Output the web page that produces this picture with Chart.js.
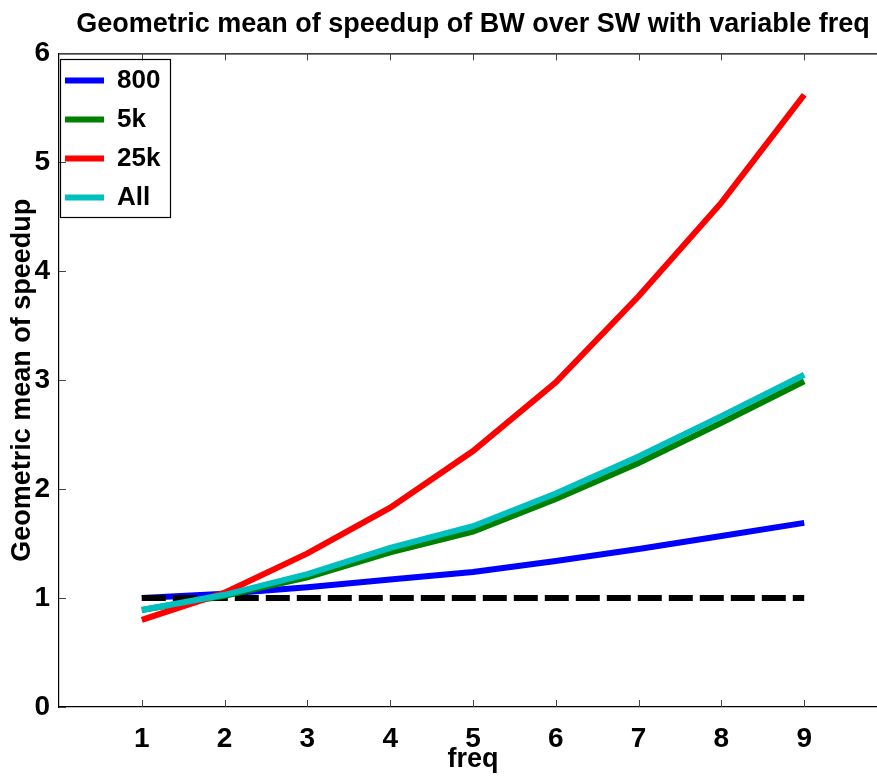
<!DOCTYPE html>
<html>
<head>
<meta charset="utf-8">
<script src="https://cdn.jsdelivr.net/npm/chart.js@4/dist/chart.umd.min.js"></script>
<style>
  html, body { margin: 0; padding: 0; background: #fff; overflow: hidden; }
  #wrap { width: 900px; height: 776px; }
</style>
</head>
<body>
<div id="wrap"><canvas id="speedup" width="900" height="776"></canvas></div>
<script>
// values
var freq = [1, 2, 3, 4, 5, 6, 7, 8, 9];
var sp800 = [1.00, 1.04, 1.10, 1.17, 1.24, 1.34, 1.45, 1.57, 1.69];
var sp5k = [0.89, 1.02, 1.19, 1.42, 1.61, 1.91, 2.24, 2.61, 2.99];
var sp25k = [0.80, 1.05, 1.41, 1.83, 2.35, 2.98, 3.77, 4.63, 5.62];
var spAll = [0.89, 1.03, 1.22, 1.46, 1.66, 1.96, 2.30, 2.67, 3.05];
var baseline = [1, 1, 1, 1, 1, 1, 1, 1, 1];
var yTicks = [0, 1, 2, 3, 4, 5, 6];

var FONT = "'Liberation Sans', Arial, Helvetica, sans-serif";

function pts(vals) {
    return freq.map(function(f, i) { return {x: f, y: vals[i]}; });
}

function series(label, vals, color, order) {
    return {
        label: label,
        data: pts(vals),
        borderColor: color,
        backgroundColor: color,
        borderWidth: 6,
        pointRadius: 0,
        tension: 0,
        order: order
    };
}

// legend in 'chartArea' gets top=0 from the layout, push it into the plot
var legendPlace = {
    id: 'legendPlace',
    afterLayout: function(chart) {
        var lg = chart.legend;
        if (!lg) {
            return;
        }
        var h = lg.height;
        var w = lg.width;
        lg.top = chart.chartArea.top + 1;
        lg.bottom = lg.top + h;
        lg.left = chart.chartArea.left - 7;
        lg.right = lg.left + w;
    }
};

// inward tick marks + top frame line, like the matlab box
var frameTicks = {
    id: 'frameTicks',
    afterDraw: function(chart) {
        var ctx = chart.ctx;
        var area = chart.chartArea;
        var xs = chart.scales.x;
        var ys = chart.scales.y;
        ctx.save();
        ctx.strokeStyle = '#000';
        ctx.lineWidth = 1.2;
        ctx.beginPath();
        ctx.moveTo(area.left, area.top + 0.5);
        ctx.lineTo(area.right, area.top + 0.5);
        ctx.stroke();
        ctx.strokeStyle = '#444';
        ctx.lineWidth = 1;
        ctx.beginPath();
        freq.forEach(function(v) {
            var px = Math.round(xs.getPixelForValue(v)) + 0.5;
            ctx.moveTo(px, area.bottom);
            ctx.lineTo(px, area.bottom - 7);
            ctx.moveTo(px, area.top);
            ctx.lineTo(px, area.top + 7);
        });
        yTicks.forEach(function(v) {
            var py = Math.round(ys.getPixelForValue(v)) + 0.5;
            ctx.moveTo(area.left, py);
            ctx.lineTo(area.left + 7, py);
        });
        ctx.stroke();

        // legend frame
        var lg = chart.legend;
        if (lg && lg.legendHitBoxes && lg.legendHitBoxes.length) {
            var hb = lg.legendHitBoxes;
            var first = hb[0];
            var last = hb[hb.length - 1];
            var r = 0;
            hb.forEach(function(b) { r = Math.max(r, b.left + b.width); });
            var l = area.left + 1;
            var t = first.top + first.height / 2 - 21;
            var b2 = last.top + last.height / 2 + 20;
            ctx.strokeStyle = '#000';
            ctx.lineWidth = 1.2;
            ctx.strokeRect(Math.round(l) + 0.5, Math.round(t) + 0.5, Math.round(r + 10 - l), Math.round(b2 - t));
        }
        ctx.restore();
    }
};

var defaultLabels = Chart.defaults.plugins.legend.labels.generateLabels;

new Chart(document.getElementById('speedup').getContext('2d'), {
    type: 'line',
    data: {
        datasets: [
            series('800', sp800, '#0000ff', 4),
            series('5k', sp5k, '#008000', 2),
            series('25k', sp25k, '#ff0000', 1),
            series('All', spAll, '#00bfbf', 0),
            {
                label: 'base',
                data: pts(baseline),
                borderColor: '#000',
                borderWidth: 6,
                borderDash: [24, 7],
                borderCapStyle: 'butt',
                pointRadius: 0,
                order: 3
            }
        ]
    },
    options: {
        responsive: false,
        animation: false,
        devicePixelRatio: 1,
        layout: { padding: { left: 0, right: 13, top: 0, bottom: 0 } },
        plugins: {
            title: {
                display: true,
                text: 'Geometric mean of speedup of BW over SW with variable freq',
                color: '#000',
                fullSize: false,
                font: { family: FONT, size: 27, weight: 'bold', lineHeight: 1.2 },
                padding: { top: 8, bottom: 13 }
            },
            legend: {
                position: 'chartArea',
                align: 'start',
                labels: {
                    color: '#000',
                    font: { family: FONT, size: 26, weight: 'bold', lineHeight: 1.2 },
                    boxWidth: 39,
                    boxHeight: 6,
                    padding: 13,
                    filter: function(item) { return item.datasetIndex < 4; },
                    sort: function(a, b) { return a.datasetIndex - b.datasetIndex; },
                    generateLabels: function(chart) {
                        return defaultLabels(chart).map(function(it) {
                            it.lineWidth = 0;
                            it.fillStyle = it.strokeStyle;
                            it.lineDash = [];
                            return it;
                        });
                    }
                }
            },
            tooltip: { enabled: false }
        },
        scales: {
            x: {
                type: 'linear',
                min: 0,
                max: 10,
                afterBuildTicks: function(scale) {
                    scale.ticks = freq.map(function(v) { return {value: v}; });
                },
                afterFit: function(scale) { scale.height = 69; },
                grid: { display: false, drawTicks: false },
                border: { display: true, color: '#000', width: 1.2 },
                ticks: {
                    color: '#000',
                    padding: 15,
                    maxRotation: 0,
                    font: { family: FONT, size: 28, weight: 'bold' }
                },
                title: {
                    display: true,
                    text: 'freq',
                    color: '#000',
                    padding: 0,
                    font: { family: FONT, size: 27, weight: 'bold', lineHeight: 1.2 }
                }
            },
            y: {
                min: 0,
                max: 6,
                afterBuildTicks: function(scale) {
                    scale.ticks = yTicks.map(function(v) { return {value: v}; });
                },
                afterFit: function(scale) { scale.width = 59; },
                grid: { display: false, drawTicks: false },
                border: { display: true, color: '#000', width: 1.2 },
                ticks: {
                    color: '#000',
                    padding: 9,
                    font: { family: FONT, size: 28, weight: 'bold' }
                },
                title: {
                    display: true,
                    text: 'Geometric mean of speedup',
                    color: '#000',
                    padding: { top: 6, bottom: 0 },
                    font: { family: FONT, size: 27, weight: 'bold', lineHeight: 1.2 }
                }
            }
        }
    },
    plugins: [legendPlace, frameTicks]
});
</script>
</body>
</html>
